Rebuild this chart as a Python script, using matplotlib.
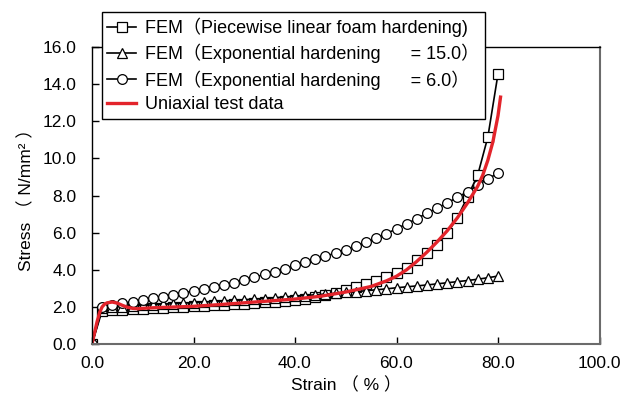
import numpy as np
import matplotlib
matplotlib.use("Agg")
import matplotlib.pyplot as plt

plt.rcParams['font.family'] = ['Liberation Sans', 'Noto Sans CJK SC', 'DejaVu Sans']

# strain (%) for the FEM series, one marker every 2 %
fem_strain = [0, 2, 4, 6, 8, 10, 12, 14, 16, 18, 20, 22, 24, 26, 28, 30, 32, 34, 36, 38, 40,
              42, 44, 46, 48, 50, 52, 54, 56, 58, 60, 62, 64, 66, 68, 70, 72, 74, 76, 78, 80]

piecewise = [0, 1.80, 1.82, 1.85, 1.88, 1.90, 1.93, 1.96, 1.98, 2.00, 2.03, 2.06, 2.08, 2.10,
             2.13, 2.17, 2.20, 2.24, 2.28, 2.33, 2.38, 2.44, 2.52, 2.62, 2.75, 2.90, 3.05, 3.22,
             3.42, 3.63, 3.85, 4.10, 4.50, 4.90, 5.33, 5.98, 6.80, 7.94, 9.10, 11.15, 14.55]

exp_15 = [0, 1.95, 1.99, 2.02, 2.05, 2.08, 2.11, 2.14, 2.17, 2.20, 2.23, 2.26, 2.29, 2.32,
          2.35, 2.38, 2.42, 2.45, 2.49, 2.53, 2.57, 2.61, 2.65, 2.69, 2.73, 2.78, 2.82, 2.87,
          2.92, 2.97, 3.03, 3.08, 3.13, 3.18, 3.24, 3.30, 3.36, 3.42, 3.49, 3.57, 3.66]

exp_6 = [0, 2.02, 2.12, 2.20, 2.28, 2.37, 2.46, 2.55, 2.65, 2.75, 2.85, 2.96, 3.07, 3.18,
         3.30, 3.45, 3.60, 3.75, 3.90, 4.05, 4.25, 4.40, 4.56, 4.73, 4.90, 5.08, 5.27, 5.47,
         5.70, 5.95, 6.20, 6.48, 6.75, 7.05, 7.32, 7.60, 7.90, 8.20, 8.55, 8.90, 9.20]

# uniaxial test data
test_strain = [0, 0.5, 1, 1.5, 2, 2.5, 3, 4, 5, 6, 7, 8, 9, 10, 12, 15, 20, 25, 30, 35, 40,
               45, 50, 55, 58, 60, 62, 64, 66, 68, 70, 72, 74, 76, 77, 78, 79, 80, 80.5]
test_stress = [0, 0.6, 1.2, 1.7, 2.0, 2.15, 2.22, 2.26, 2.2, 2.08, 1.98, 1.92, 1.9, 1.92,
               1.95, 1.98, 2.03, 2.12, 2.22, 2.32, 2.42, 2.57, 2.8, 3.1, 3.4, 3.65, 4.0, 4.45,
               4.95, 5.5, 6.1, 6.8, 7.6, 8.5, 9.1, 9.9, 10.9, 12.3, 13.3]

labels = ['FEM（Piecewise linear foam hardening)',
          'FEM（Exponential hardening      = 15.0）',
          'FEM（Exponential hardening      = 6.0）',
          'Uniaxial test data']

fig = plt.figure(figsize=(6.21, 4.03), dpi=100)
ax = fig.add_axes([92/621, 59/403, 507.5/621, 297/403])

mk = dict(color='black', lw=1.2, mfc='white', mec='black', mew=0.9)
ax.plot(fem_strain, piecewise, marker='s', ms=6.5, label=labels[0], **mk)
ax.plot(fem_strain, exp_15, marker='^', ms=6.5, label=labels[1], **mk)
ax.plot(fem_strain, exp_6, marker='o', ms=7, label=labels[2], **mk)
ax.plot(test_strain, test_stress, color='#e3242b', lw=2.4, label=labels[3])

ax.set_xlim(0, 100)
ax.set_ylim(0, 16)
ax.set_xticks(np.arange(0, 101, 20))
ax.set_yticks(np.arange(0, 16.1, 2))
ax.xaxis.set_major_formatter(matplotlib.ticker.FormatStrFormatter('%.1f'))
ax.yaxis.set_major_formatter(matplotlib.ticker.FormatStrFormatter('%.1f'))
ax.tick_params(direction='in', length=5, width=1, labelsize=12.5, colors='black')
ax.tick_params(axis='x', pad=9)
ax.tick_params(axis='y', pad=11)

for s in ['left', 'top']:
    ax.spines[s].set_color('black')
    ax.spines[s].set_linewidth(1.0)
for s in ['right', 'bottom']:
    ax.spines[s].set_color('#6b6b6b')
    ax.spines[s].set_linewidth(1.5)

ax.set_xlabel('Strain （ % ）', fontsize=12.5, labelpad=4)
ax.set_ylabel('Stress （ N/mm² ）', fontsize=12.5, labelpad=6)

leg = fig.legend(loc='upper left', bbox_to_anchor=(102/621, 1 - 12/403), fontsize=13,
                 frameon=True, fancybox=False, edgecolor='black', framealpha=1,
                 handlelength=1.6, handletextpad=0.5, borderpad=0.3, labelspacing=0.38,
                 borderaxespad=0)
leg.get_frame().set_linewidth(1.0)

fig.savefig('out.png', dpi=100)
